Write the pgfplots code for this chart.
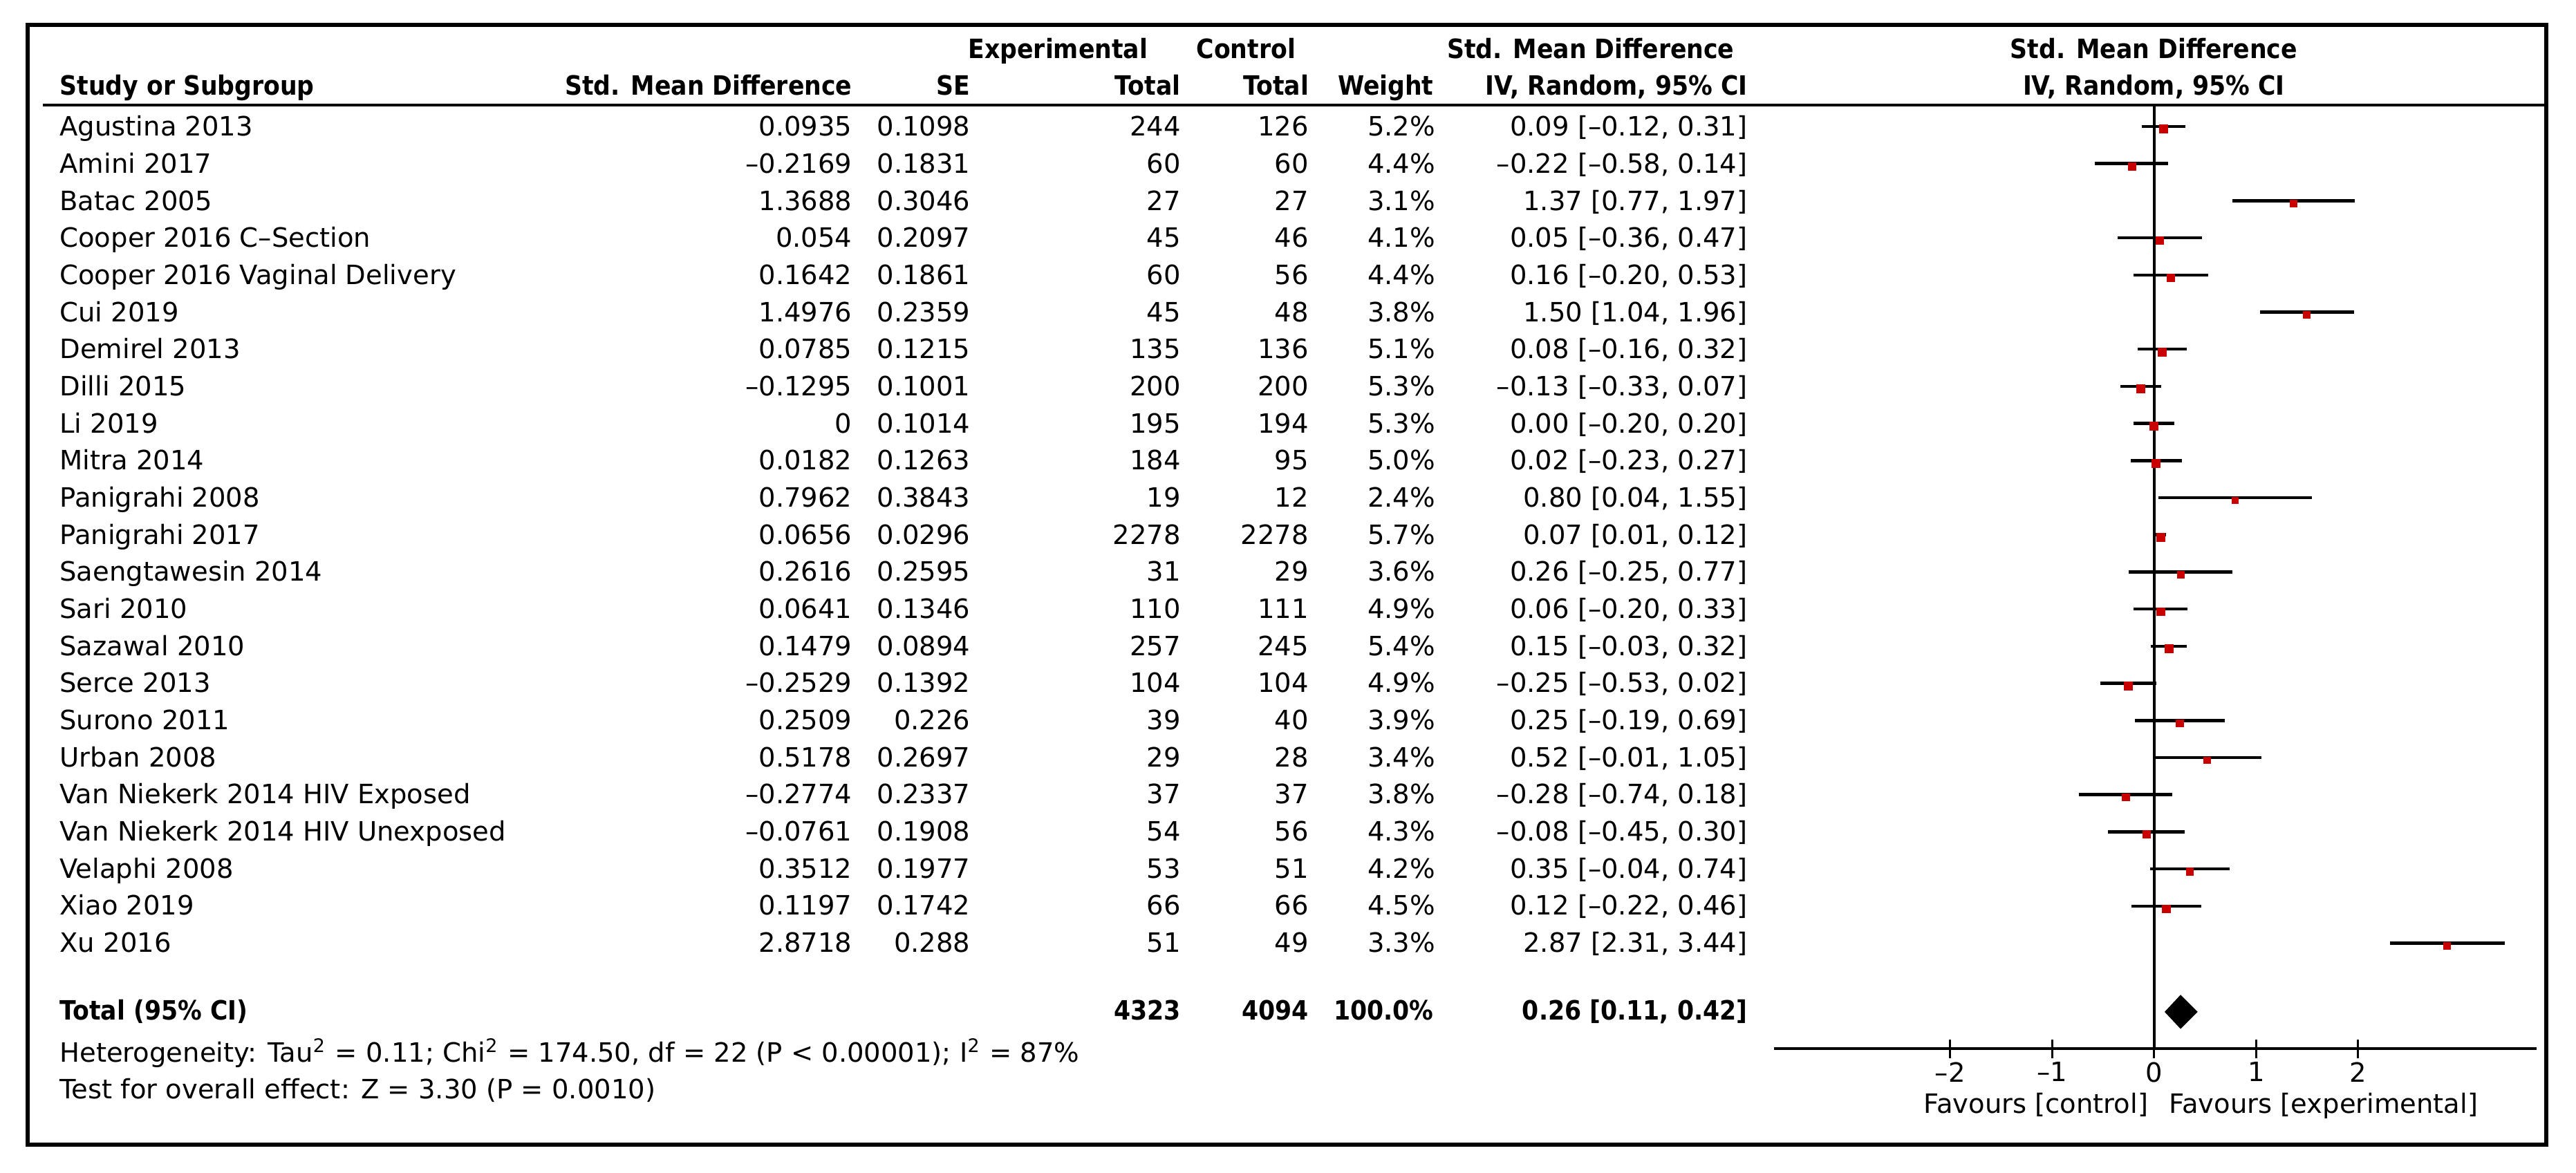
\documentclass[border=0pt]{standalone}
\usepackage{fontspec}
\setmainfont{DejaVu Sans}
\usepackage{graphicx}
\usepackage{pgfplots}
\usepackage{pgfplotstable}
\pgfplotsset{compat=1.18}

\definecolor{fpred}{RGB}{200,0,0}
% bold headings are narrower than the regular face
\newcommand\hd[1]{\scalebox{0.9}[1]{\bfseries #1}}

% row, estimate, lower and upper 95% CI, weight (%)
\pgfplotstableread{
row smd lo hi w
1 0.0935 -0.12 0.31 5.2
2 -0.2169 -0.58 0.14 4.4
3 1.3688 0.77 1.97 3.1
4 0.054 -0.36 0.47 4.1
5 0.1642 -0.20 0.53 4.4
6 1.4976 1.04 1.96 3.8
7 0.0785 -0.16 0.32 5.1
8 -0.1295 -0.33 0.07 5.3
9 0 -0.20 0.20 5.3
10 0.0182 -0.23 0.27 5.0
11 0.7962 0.04 1.55 2.4
12 0.0656 0.01 0.12 5.7
13 0.2616 -0.25 0.77 3.6
14 0.0641 -0.20 0.33 4.9
15 0.1479 -0.03 0.32 5.4
16 -0.2529 -0.53 0.02 4.9
17 0.2509 -0.19 0.69 3.9
18 0.5178 -0.01 1.05 3.4
19 -0.2774 -0.74 0.18 3.8
20 -0.0761 -0.45 0.30 4.3
21 0.3512 -0.04 0.74 4.2
22 0.1197 -0.22 0.46 4.5
23 2.8718 2.31 3.44 3.3
}\studies

\begin{document}
\begin{tikzpicture}[font=\fontsize{7.7}{9}\selectfont]
\begin{scope}[x=0.4752pt,y=-0.4752pt]
\useasboundingbox (0,0) rectangle (1568,714);
\draw[line width=1.2pt] (17,15) rectangle (1550,697);
\draw[line width=0.8pt] (26,64) -- (1550,64);

\begin{scope}[every node/.style={inner sep=0pt}]
% header
\node[anchor=mid east] at (699,30) {\hd{Experimental}};
\node[anchor=mid east] at (789,30) {\hd{Control}};
\node[anchor=mid east] at (1056,30) {\hd{Std. Mean Difference}};
\node[anchor=mid] at (1311,30) {\hd{Std. Mean Difference}};
\node[anchor=mid west] at (36,52) {\hd{Study or Subgroup}};
\node[anchor=mid east] at (519,52) {\hd{Std. Mean Difference}};
\node[anchor=mid east] at (591,52) {\hd{SE}};
\node[anchor=mid east] at (719,52) {\hd{Total}};
\node[anchor=mid east] at (797,52) {\hd{Total}};
\node[anchor=mid east] at (873,52) {\hd{Weight}};
\node[anchor=mid east] at (1064,52) {\hd{IV, Random, 95\% CI}};
\node[anchor=mid] at (1311,52) {\hd{IV, Random, 95\% CI}};
% total row
\node[anchor=mid west] at (36,615) {\hd{Total (95\% CI)}};
\node[anchor=mid east] at (719,615) {\hd{4323}};
\node[anchor=mid east] at (797,615) {\hd{4094}};
\node[anchor=mid east] at (873,615) {\hd{100.0\%}};
\node[anchor=mid east] at (1064,615) {\hd{0.26 [0.11, 0.42]}};

% study rows
\foreach \r/\name/\smd/\se/\ne/\nc/\wt/\ci in {
 1/Agustina 2013/0.0935/0.1098/244/126/5.2/{0.09 [–0.12, 0.31]},
 2/Amini 2017/–0.2169/0.1831/60/60/4.4/{–0.22 [–0.58, 0.14]},
 3/Batac 2005/1.3688/0.3046/27/27/3.1/{1.37 [0.77, 1.97]},
 4/Cooper 2016 C–Section/0.054/0.2097/45/46/4.1/{0.05 [–0.36, 0.47]},
 5/Cooper 2016 Vaginal Delivery/0.1642/0.1861/60/56/4.4/{0.16 [–0.20, 0.53]},
 6/Cui 2019/1.4976/0.2359/45/48/3.8/{1.50 [1.04, 1.96]},
 7/Demirel 2013/0.0785/0.1215/135/136/5.1/{0.08 [–0.16, 0.32]},
 8/Dilli 2015/–0.1295/0.1001/200/200/5.3/{–0.13 [–0.33, 0.07]},
 9/Li 2019/0/0.1014/195/194/5.3/{0.00 [–0.20, 0.20]},
 10/Mitra 2014/0.0182/0.1263/184/95/5.0/{0.02 [–0.23, 0.27]},
 11/Panigrahi 2008/0.7962/0.3843/19/12/2.4/{0.80 [0.04, 1.55]},
 12/Panigrahi 2017/0.0656/0.0296/2278/2278/5.7/{0.07 [0.01, 0.12]},
 13/Saengtawesin 2014/0.2616/0.2595/31/29/3.6/{0.26 [–0.25, 0.77]},
 14/Sari 2010/0.0641/0.1346/110/111/4.9/{0.06 [–0.20, 0.33]},
 15/Sazawal 2010/0.1479/0.0894/257/245/5.4/{0.15 [–0.03, 0.32]},
 16/Serce 2013/–0.2529/0.1392/104/104/4.9/{–0.25 [–0.53, 0.02]},
 17/Surono 2011/0.2509/0.226/39/40/3.9/{0.25 [–0.19, 0.69]},
 18/Urban 2008/0.5178/0.2697/29/28/3.4/{0.52 [–0.01, 1.05]},
 19/Van Niekerk 2014 HIV Exposed/–0.2774/0.2337/37/37/3.8/{–0.28 [–0.74, 0.18]},
 20/Van Niekerk 2014 HIV Unexposed/–0.0761/0.1908/54/56/4.3/{–0.08 [–0.45, 0.30]},
 21/Velaphi 2008/0.3512/0.1977/53/51/4.2/{0.35 [–0.04, 0.74]},
 22/Xiao 2019/0.1197/0.1742/66/66/4.5/{0.12 [–0.22, 0.46]},
 23/Xu 2016/2.8718/0.288/51/49/3.3/{2.87 [2.31, 3.44]}}{
  \pgfmathsetmacro\yy{77+(\r-1)*22.59}
  \node[anchor=mid west] at (36,\yy) {\name};
  \node[anchor=mid east] at (519,\yy) {\smd};
  \node[anchor=mid east] at (591,\yy) {\se};
  \node[anchor=mid east] at (719,\yy) {\ne};
  \node[anchor=mid east] at (797,\yy) {\nc};
  \node[anchor=mid east] at (874,\yy) {\wt\%};
  \node[anchor=mid east] at (1064,\yy) {\ci};
}
\node[anchor=mid west] at (36,641) {Heterogeneity: Tau\textsuperscript{2} = 0.11; Chi\textsuperscript{2} = 174.50, df = 22 (P < 0.00001); I\textsuperscript{2} = 87\%};
\node[anchor=mid west] at (36,663) {Test for overall effect: Z = 3.30 (P = 0.0010)};
\node[anchor=mid east] at (1308,672) {Favours [control]};
\node[anchor=mid west] at (1320,672) {Favours [experimental]};
\end{scope}
\end{scope}

\begin{axis}[
    at={(513.2pt,-303.37pt)}, anchor=south west,
    scale only axis, width=220.5pt, height=272.96pt,
    xmin=-3.725, xmax=3.75, ymin=-25.84, ymax=-0.425,
    axis x line=bottom, axis y line=none,
    x axis line style={-, line width=0.8pt},
    xtick={-2,-1,0,1,2}, xticklabels={–2,–1,0,1,2},
    tick align=center, major tick length=5.4pt,
    tick style={line width=0.6pt, black},
    xticklabel style={font=\fontsize{7.7}{9}\selectfont, inner sep=1pt},
    clip=false]
  \addplot[black, line width=0.9pt] coordinates {(0,-0.425) (0,-25.84)};
  \addplot[scatter, only marks, mark=square*,
    scatter/use mapped color={draw=fpred, fill=fpred},
    visualization depends on={0.48*sqrt(\thisrow{w}) \as \ms},
    scatter/@pre marker code/.append style={/tikz/mark size=\ms, /tikz/yshift=-0.8pt},
    error bars/.cd, x dir=both, x explicit, error mark=none,
    error bar style={line width=0.9pt, black}]
    table[x=smd, y expr=-\thisrow{row},
      x error plus expr=\thisrow{hi}-\thisrow{smd},
      x error minus expr=\thisrow{smd}-\thisrow{lo}] {\studies};
  \addplot[fill=black, draw=black, line width=0.3pt] coordinates
    {(0.11,-24.85) (0.26,-24.41) (0.42,-24.85) (0.26,-25.29)} -- cycle;
\end{axis}
\end{tikzpicture}
\end{document}
